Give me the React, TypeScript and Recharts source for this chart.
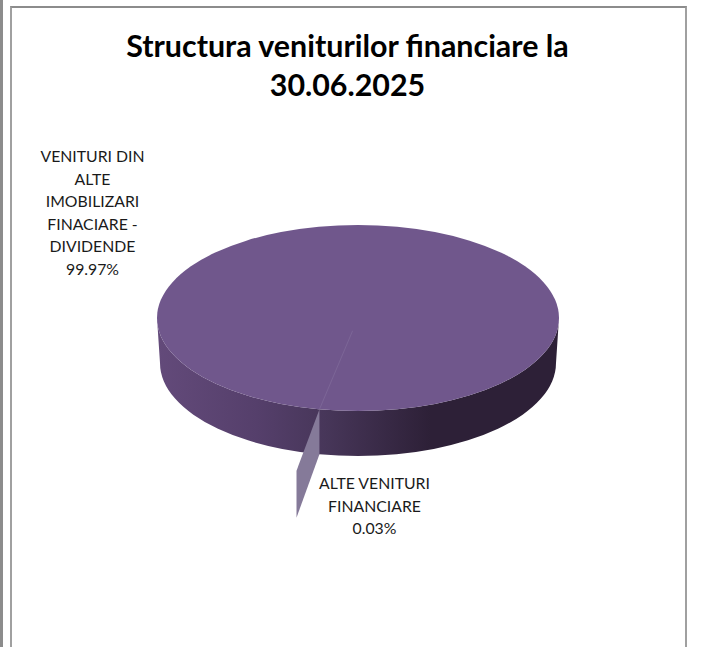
import { PieChart, Pie } from "recharts";

const sliceNames = ["VENITURI DIN ALTE IMOBILIZARI FINACIARE - DIVIDENDE", "ALTE VENITURI FINANCIARE"];
const sliceValues = [99.97, 0.03];
const bigLabelLines = ["VENITURI DIN", "ALTE", "IMOBILIZARI", "FINACIARE -", "DIVIDENDE", "99.97%"];
const smallLabelLines = ["ALTE VENITURI", "FINANCIARE", "0.03%"];
const titleLines = ["Structura veniturilor financiare la", "30.06.2025"];

const data = sliceNames.map((name, i) => ({ name, value: sliceValues[i] }));

const TILT = 93 / 201;
const DEPTH = 45;
const RAD = Math.PI / 180;
const FONT = "Lato, sans-serif";

function rim(cx: number, cy: number, r: number, angle: number, t = 1) {
  return {
    x: cx + r * t * Math.cos(angle * RAD),
    y: cy - r * TILT * t * Math.sin(angle * RAD),
  };
}

function PieSlice(props: any) {
  const { cx, cy, outerRadius: r, midAngle, index } = props;
  const ry = r * TILT;
  if (index === 0) {
    const r2 = r - 3;
    return (
      <g>
        <path
          d={`M${cx - r},${cy} A${r},${ry} 0 0 0 ${cx + r},${cy} L${cx + r2},${cy + DEPTH} A${r2},${ry} 0 0 1 ${cx - r2},${cy + DEPTH} Z`}
          fill="url(#wall)"
        />
        <ellipse cx={cx} cy={cy} rx={r} ry={ry} fill="#70578c" />
      </g>
    );
  }
  const a = rim(cx, cy, r, midAngle);
  const b = rim(cx, cy, r, midAngle + 0.5, 1.67);
  const c = rim(cx, cy, r, midAngle, 0.14);
  return (
    <g>
      <line x1={c.x} y1={c.y} x2={a.x} y2={a.y} stroke="#7f6a99" strokeWidth={0.8} />
      <polygon
        points={`${a.x},${a.y} ${a.x},${a.y + DEPTH} ${b.x},${b.y + DEPTH + 2} ${b.x},${b.y}`}
        fill="#857a99"
      />
    </g>
  );
}

function SliceLabel(props: any) {
  const { index } = props;
  const lines = index === 0 ? bigLabelLines : smallLabelLines;
  const x = index === 0 ? 92.5 : 374.5;
  const y = index === 0 ? 162 : 489;
  return (
    <text x={x} textAnchor="middle" fontFamily={FONT} fontSize={15.8} fill="#1a1a1a">
      {lines.map((line, i) => (
        <tspan key={line} x={x} y={y + i * 22.6}>
          {line}
        </tspan>
      ))}
    </text>
  );
}

export default function App() {
  return (
    <div style={{ position: "absolute", left: 0, top: 0, width: 704, height: 647, background: "#fff", overflow: "hidden" }}>
      <div style={{ position: "absolute", left: 0, top: 0, width: 2.5, height: 647, background: "#8c8c8c" }} />
      <div style={{ position: "absolute", left: 10, top: 6, width: 673, height: 660, border: "2px solid #a0a0a0", borderTopColor: "#8c8c8c" }} />
      <PieChart width={704} height={647} margin={{ top: 0, right: 0, bottom: 0, left: 0 }}>
        <defs>
          <linearGradient id="wall" x1="0" y1="0" x2="1" y2="0">
            <stop offset="0" stopColor="#634a7a" />
            <stop offset="0.25" stopColor="#553f6b" />
            <stop offset="0.42" stopColor="#473659" />
            <stop offset="0.68" stopColor="#2d2037" />
            <stop offset="1" stopColor="#2d2037" />
          </linearGradient>
        </defs>
        <text x={347.5} textAnchor="middle" fontFamily={FONT} fontWeight={700} fontSize={30.4} fill="#000">
          {titleLines.map((line, i) => (
            <tspan key={line} x={347.5} y={57 + i * 39}>
              {line}
            </tspan>
          ))}
        </text>
        <Pie
          data={data}
          dataKey="value"
          nameKey="name"
          cx={358}
          cy={318}
          outerRadius={201}
          startAngle={259}
          endAngle={619}
          shape={PieSlice}
          label={SliceLabel}
          labelLine={false}
          stroke="none"
          isAnimationActive={false}
        />
      </PieChart>
    </div>
  );
}
